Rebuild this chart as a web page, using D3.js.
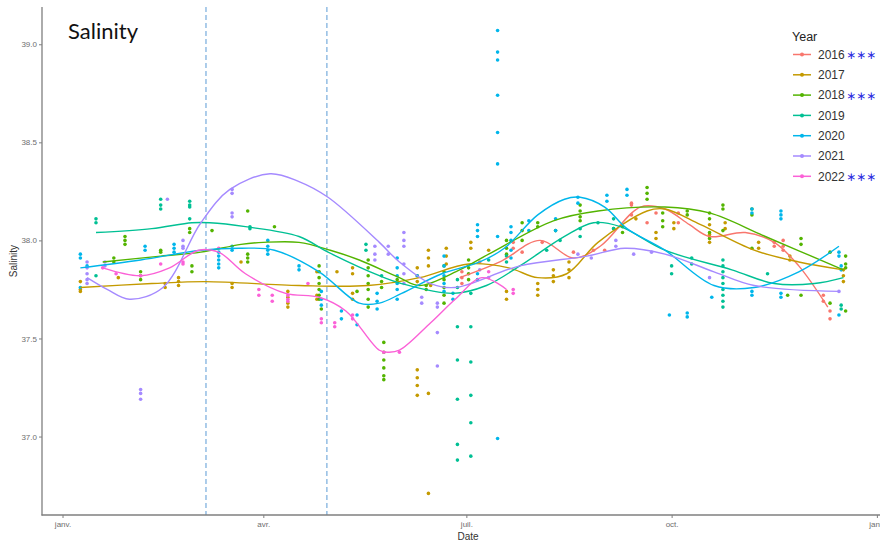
<!DOCTYPE html>
<html><head><meta charset="utf-8">
<script src="https://cdn.jsdelivr.net/npm/d3@7"></script>
<style>
html,body{margin:0;padding:0;background:#fff;}
svg{display:block;}
</style></head>
<body><svg id="chart" width="880" height="543"></svg>
<script>
// ---------- DATA (day of year, salinity) ----------
const years = ["2016","2017","2018","2019","2020","2021","2022"];
const colors = ["#F8766D","#C49A00","#53B400","#00C094","#00B6EB","#A58AFF","#FB61D7"];
const significant = [true,false,true,false,false,false,true];
const xTickDays = [0,90,181,273,365];
const xTickLabels = ["janv.","avr.","juil.","oct.","janv."];
const yTicks = [37.0,37.5,38.0,38.5,39.0];
const dashedDays = [64.3,118.5];

// points: [day, [values...]]
const pts2016 = [[179,[37.84,37.81,37.78]],[187,[37.89]],[202,[37.99,37.96]],[206,[37.94]],[215,[37.99]],[229,[37.94]],[238,[37.95]],[243,[37.95]],[255,[38.19,38.18]],[255,[38.13]],[262,[38.09]],[266,[38.14]],[276,[38.14,38.09]],[290,[38.02]],[319,[37.99,37.97]],[323,[38.00,37.97,37.95]],[341,[37.72,37.69]],[344,[37.64,37.60]]];
const pts2017 = [[8,[37.79,37.75,37.74]],[25,[37.81]],[46,[37.78,37.76]],[52,[37.81,37.79,37.77]],[76,[37.78,37.76]],[80,[37.89]],[101,[37.74,37.71,37.68,37.66]],[114,[37.84]],[114,[37.72,37.70]],[123,[37.84]],[130,[37.86,37.83]],[130,[37.73,37.70]],[159,[37.86,37.82,37.79]],[159,[37.34,37.30,37.26,37.21]],[164,[37.95,37.91,37.87]],[164,[37.22]],[164,[36.71]],[165,[37.77]],[172,[37.96,37.92,37.88]],[183,[37.99,37.96]],[191,[37.95]],[199,[37.74,37.70]],[213,[37.78,37.75,37.72]],[220,[37.85,37.82,37.79]],[227,[37.89,37.85,37.81]],[257,[38.11]],[266,[38.04,38.01]],[274,[38.09,38.06]],[290,[38.08,38.03,37.99]],[297,[38.09,38.06]],[312,[37.99,37.96]],[326,[37.92,37.90]],[350,[37.85,37.82,37.79]]];
const pts2018 = [[23,[37.91,37.89]],[28,[38.02,38.00,37.98]],[35,[37.84,37.82,37.80]],[44,[37.95,37.94]],[57,[38.06,38.04]],[58,[37.87,37.84]],[67,[38.05]],[83,[38.15]],[83,[37.93,37.91,37.89]],[95,[38.07]],[115,[37.87,37.84,37.81,37.78,37.75,37.72,37.70]],[116,[37.65]],[132,[37.74]],[137,[37.90,37.86,37.82,37.78,37.75,37.70,37.66]],[143,[37.79,37.76]],[144,[37.48,37.43,37.39,37.35,37.31,37.29]],[150,[37.80]],[163,[37.77,37.75]],[171,[37.87,37.84,37.80,37.76,37.72,37.68]],[182,[37.90,37.86,37.83,37.80]],[199,[38.00,37.96,37.93]],[206,[38.09,38.05,38.00]],[213,[38.09,38.07]],[221,[38.05]],[232,[38.18,38.15,38.12]],[232,[38.10]],[247,[38.06]],[251,[38.07,38.04]],[262,[38.27,38.24,38.21]],[269,[38.14,38.10,38.07]],[280,[38.15,38.13]],[290,[38.14,38.11]],[290,[38.04,38.01]],[296,[38.18,38.16]],[296,[38.05]],[309,[38.16,38.13]],[309,[37.96]],[325,[37.72]],[331,[38.01,37.98]],[331,[37.72]],[344,[37.94]],[344,[37.68]],[351,[37.92,37.88,37.86]],[351,[37.64]]];
const pts2019 = [[15,[38.11,38.09]],[15,[37.82]],[44,[38.21,38.18,38.16]],[57,[38.20,38.18,38.17]],[57,[38.11]],[84,[38.07,38.06]],[136,[37.98,37.95]],[143,[37.82]],[177,[37.56,37.39,37.19,36.96,36.88]],[177,[37.80,37.76]],[183,[37.73]],[183,[37.56,37.38,37.21,37.07,36.90]],[191,[37.90]],[199,[37.92,37.89]],[217,[37.95]],[223,[38.00]],[232,[38.06,38.02]],[240,[38.09]],[247,[38.11,38.06]],[273,[37.87,37.83]],[282,[37.91,37.88]],[296,[37.90,37.87,37.84,37.81,37.78,37.75,37.72,37.69,37.66]],[316,[37.83]],[349,[37.67,37.65]]];
const pts2020 = [[8,[37.93,37.91]],[8,[37.76]],[11,[37.87]],[37,[37.97,37.95]],[50,[37.98,37.96,37.94]],[70,[37.94,37.92,37.90,37.88,37.86]],[76,[37.97,37.95]],[92,[38.00,37.97,37.95,37.93]],[106,[37.87,37.85]],[116,[37.74,37.70,37.67]],[125,[37.64,37.60]],[132,[37.62,37.57]],[141,[37.73,37.69,37.65]],[150,[37.91,37.86,37.82,37.78,37.75]],[150,[37.70]],[159,[37.82]],[171,[37.92,37.87,37.82,37.78,37.74]],[175,[37.73,37.70]],[186,[38.08,38.05,38.02]],[186,[37.83,37.80]],[195,[39.07,38.96,38.92,38.74,38.55,38.39,36.99]],[195,[38.02]],[201,[38.07,38.04,38.00]],[201,[37.95,37.91]],[209,[38.10,38.05]],[221,[38.11,38.05]],[231,[38.22,38.19]],[244,[38.23,38.20]],[253,[38.26,38.23]],[272,[37.62]],[280,[37.63,37.61]],[291,[37.71]],[309,[38.16,38.14]],[309,[37.74,37.72]],[322,[38.15,38.13,38.11]],[322,[37.73,37.71]],[348,[37.94,37.92]],[348,[37.62]],[349,[37.87,37.85]]];
const pts2021 = [[11,[37.89,37.86,37.83,37.80,37.78]],[19,[37.89,37.87]],[35,[37.24,37.22,37.19]],[47,[38.21]],[54,[38.00,37.97,37.96]],[76,[38.26,38.24]],[76,[38.14,38.12]],[140,[37.97,37.93,37.90]],[146,[37.97,37.93]],[153,[38.04,38.00,37.97]],[153,[37.88,37.83,37.78]],[161,[37.71,37.68]],[168,[37.53]],[168,[37.36]],[168,[37.68,37.66]],[187,[37.85]],[231,[37.93]],[237,[37.91]],[248,[38.00,37.97]],[256,[37.93]],[264,[37.94]],[290,[37.81]],[348,[37.74]]];
const pts2022 = [[18,[37.86]],[24,[37.83]],[35,[37.82]],[44,[37.88]],[54,[37.89,37.88]],[70,[37.96]],[88,[37.75,37.72]],[94,[37.72,37.69]],[101,[37.72,37.70,37.69]],[110,[37.78]],[116,[37.60,37.58]],[122,[37.58,37.56]],[130,[37.62,37.60]],[144,[37.43]],[151,[37.43]],[191,[37.84,37.81]],[202,[37.75,37.73]]];

// smoothed (loess) curves: [day, value]
const fit2016 = [[178,37.81],[196,37.89],[214,38.00],[229,37.91],[241,37.97],[259,38.17],[270,38.16],[281,38.08],[290,38.02],[306,38.04],[319,37.99],[330,37.87],[343,37.66]];
const fit2017 = [[8,37.76],[40,37.78],[64,37.79],[106,37.77],[137,37.77],[160,37.81],[182,37.88],[200,37.86],[213,37.81],[226,37.83],[240,37.99],[262,38.15],[270,38.16],[286,38.08],[310,37.95],[330,37.89],[350,37.85]];
const fit2018 = [[18,37.89],[44,37.92],[62,37.94],[80,37.98],[90,37.99],[106,37.99],[120,37.95],[133,37.90],[151,37.81],[160,37.77],[178,37.85],[191,37.93],[220,38.10],[240,38.15],[270,38.17],[290,38.14],[315,38.02],[350,37.85]];
const fit2019 = [[15,38.04],[40,38.06],[58,38.09],[66,38.09],[82,38.07],[106,38.02],[119,37.94],[142,37.82],[152,37.78],[175,37.73],[190,37.77],[205,37.87],[225,38.02],[238,38.09],[250,38.07],[270,37.95],[300,37.85],[319,37.78],[337,37.78],[350,37.81]];
const fit2020 = [[8,37.86],[35,37.90],[62,37.95],[80,37.96],[95,37.95],[115,37.84],[133,37.68],[142,37.68],[152,37.73],[170,37.83],[187,37.89],[198,37.96],[213,38.13],[225,38.21],[232,38.22],[243,38.17],[253,38.06],[270,37.95],[292,37.77],[310,37.76],[330,37.84],[348,37.97]];
const fit2021 = [[11,37.81],[20,37.75],[30,37.70],[45,37.76],[62,38.09],[75,38.26],[93,38.34],[106,38.30],[119,38.22],[142,37.99],[151,37.89],[165,37.78],[176,37.76],[205,37.87],[235,37.92],[252,37.96],[270,37.93],[292,37.84],[310,37.77],[348,37.74]];
const fit2022 = [[18,37.86],[35,37.82],[48,37.86],[61,37.95],[70,37.94],[82,37.83],[100,37.73],[115,37.71],[127,37.64],[142,37.44],[146,37.43],[151,37.44],[165,37.58],[176,37.70],[188,37.81],[199,37.75]];

const allPts = [pts2016,pts2017,pts2018,pts2019,pts2020,pts2021,pts2022];
const allFits = [fit2016,fit2017,fit2018,fit2019,fit2020,fit2021,fit2022];

// ---------- DRAW ----------
const svg = d3.select("#chart");
const pL = 42, pR = 880, pT = 7, pB = 515;
const x = d3.scaleLinear().domain([-9.2, 366.4]).range([pL, pR]);
const y = d3.scaleLinear().domain([36.6, 39.19]).range([pB, pT]);

// dashed vertical lines
svg.append("g").selectAll("line").data(dashedDays).join("line")
  .attr("x1", d => x(d)).attr("x2", d => x(d))
  .attr("y1", pT).attr("y2", pB)
  .attr("stroke", "#5b9bd5").attr("stroke-width", 1)
  .attr("stroke-dasharray", "5,3");

// points
allPts.forEach((arr, i) => {
  const flat = [];
  arr.forEach(([d, vals]) => vals.forEach(v => flat.push([d, v])));
  svg.append("g").selectAll("circle").data(flat).join("circle")
    .attr("cx", d => x(d[0])).attr("cy", d => y(d[1]))
    .attr("r", 1.8).attr("fill", colors[i]);
});

// smooth lines
const line = d3.line().x(d => x(d[0])).y(d => y(d[1])).curve(d3.curveCatmullRom.alpha(0.5));
allFits.forEach((arr, i) => {
  svg.append("path").datum(arr).attr("d", line)
    .attr("fill", "none").attr("stroke", colors[i]).attr("stroke-width", 1.4);
});

// axes
const axisColor = "#7f7f7f";
const yAxis = d3.axisLeft(y).tickValues(yTicks).tickFormat(d3.format(".1f")).tickSize(3).tickPadding(2);
const gy = svg.append("g").attr("transform", `translate(${pL},0)`).call(yAxis);
const xAxis = d3.axisBottom(x).tickValues(xTickDays).tickFormat((d, i) => xTickLabels[i]).tickSize(3).tickPadding(3);
const gx = svg.append("g").attr("transform", `translate(0,${pB})`).call(xAxis);
[gx, gy].forEach(g => {
  g.select(".domain").remove();
  g.selectAll(".tick line").attr("stroke", axisColor);
  g.selectAll(".tick text").attr("fill", "#6e6e6e").style("font-family", "Liberation Sans, Arial, sans-serif").style("font-size", "8px");
});
svg.append("line").attr("x1", pL).attr("x2", pL).attr("y1", pT).attr("y2", pB + 0.5)
  .attr("stroke", axisColor).attr("stroke-width", 1.3);
svg.append("line").attr("x1", pL - 0.5).attr("x2", pR).attr("y1", pB).attr("y2", pB)
  .attr("stroke", axisColor).attr("stroke-width", 1.3);

// axis titles
svg.append("text").attr("x", (pL + pR) / 2 + 7).attr("y", 540)
  .attr("text-anchor", "middle").attr("fill", "#333")
  .style("font-family", "Liberation Sans, Arial, sans-serif").style("font-size", "10px").text("Date");
svg.append("text").attr("transform", `translate(17,${(pT + pB) / 2}) rotate(-90)`)
  .attr("text-anchor", "middle").attr("fill", "#333")
  .style("font-family", "Liberation Sans, Arial, sans-serif").style("font-size", "10px").text("Salinity");

// title
svg.append("text").attr("x", 68).attr("y", 39).attr("fill", "#111")
  .style("font-family", "Lato, 'Open Sans', sans-serif").style("font-size", "22px").text("Salinity");

// legend
const lg = svg.append("g");
lg.append("text").attr("x", 792).attr("y", 41).attr("fill", "#222")
  .style("font-family", "Liberation Sans, Arial, sans-serif").style("font-size", "12.5px").text("Year");
years.forEach((yr, i) => {
  const cy = 54.5 + i * 20.3;
  lg.append("line").attr("x1", 793).attr("x2", 811).attr("y1", cy).attr("y2", cy)
    .attr("stroke", colors[i]).attr("stroke-width", 1.5);
  lg.append("circle").attr("cx", 802).attr("cy", cy).attr("r", 2).attr("fill", colors[i]);
  lg.append("text").attr("x", 818).attr("y", cy + 4.3).attr("fill", "#333")
    .style("font-family", "Liberation Sans, Arial, sans-serif").style("font-size", "12px").text(yr);
  if (significant[i]) {
    lg.append("text").attr("x", 846).attr("y", cy + 4.5).attr("fill", "#2a2ae0")
      .style("font-family", "DejaVu Sans, sans-serif").style("font-size", "12px").text("∗∗∗");
  }
});
</script>
</body></html>
